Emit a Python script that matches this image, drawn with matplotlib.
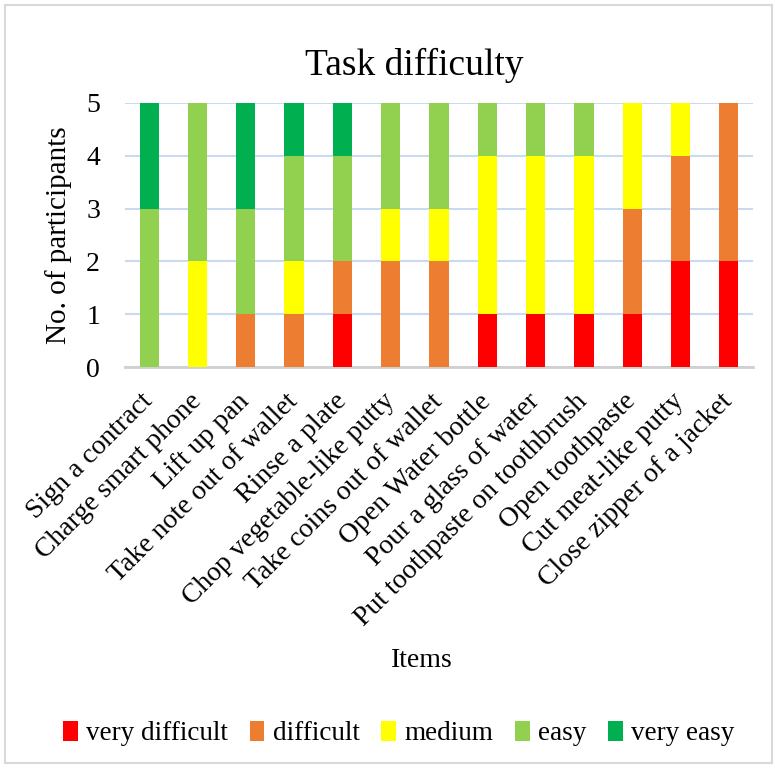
import matplotlib
matplotlib.use("Agg")
import matplotlib.pyplot as plt
from matplotlib.patches import Rectangle, Patch
import numpy as np

SERIF = ['Liberation Serif', 'DejaVu Serif']
plt.rcParams['font.family'] = SERIF

tasks = [
    "Sign a contract", "Charge smart phone", "Lift up pan",
    "Take note out of wallet", "Rinse a plate", "Chop vegetable-like putty",
    "Take coins out of wallet", "Open Water bottle", "Pour a glass of water",
    "Put toothpaste on toothbrush", "Open toothpaste", "Cut meat-like putty",
    "Close zipper of a jacket",
]
very_difficult = [0, 0, 0, 0, 1, 0, 0, 1, 1, 1, 1, 2, 2]
difficult      = [0, 0, 1, 1, 1, 2, 2, 0, 0, 0, 2, 2, 3]
medium         = [0, 2, 0, 1, 0, 1, 1, 3, 3, 3, 2, 1, 0]
easy           = [3, 3, 2, 2, 2, 2, 2, 1, 1, 1, 0, 0, 0]
very_easy      = [2, 0, 2, 1, 1, 0, 0, 0, 0, 0, 0, 0, 0]

series = [
    ("very difficult", very_difficult, "#FF0000"),
    ("difficult", difficult, "#ED7D31"),
    ("medium", medium, "#FFFF00"),
    ("easy", easy, "#92D050"),
    ("very easy", very_easy, "#00B050"),
]

fig = plt.figure(figsize=(7.77, 7.68), dpi=100)
fig.patches.append(Rectangle((0.007, 0.007), 0.986, 0.986, transform=fig.transFigure,
                             fill=False, edgecolor="#D9D9D9", linewidth=1.5))
ax = fig.add_axes([0.161, 0.522, 0.808, 0.344])

x = np.arange(len(tasks))
bottom = np.zeros(len(tasks))
handles = []
for name, vals, color in series:
    vals = np.array(vals, dtype=float)
    ax.bar(x, vals, bottom=bottom, width=0.4, color=color, zorder=3, label=name)
    bottom += vals
    handles.append(Patch(facecolor=color, label=name))

ax.set_xlim(-0.5, len(tasks) - 0.5)
ax.set_ylim(0, 5)
ax.set_yticks(range(6))
ax.yaxis.grid(True, color="#C9DAEE", linewidth=1.5, zorder=0)
ax.set_axisbelow(True)
for s in ["top", "right", "left"]:
    ax.spines[s].set_visible(False)
ax.spines["bottom"].set_color("#D0D0D0")
ax.spines["bottom"].set_linewidth(2)
ax.tick_params(axis="both", length=0, labelsize=20)
ax.tick_params(axis="y", pad=18)
ax.set_xticks(x)
ax.set_xticklabels(tasks, rotation=45, ha="right", va="center", rotation_mode="anchor")
ax.tick_params(axis="x", pad=22)

ax.set_ylabel("No. of participants", fontsize=21, labelpad=10)
fig.text(0.543, 0.14, "Items", ha="center", va="center", fontsize=20)
fig.text(0.533, 0.915, "Task difficulty", ha="center", va="center", fontsize=27)

fig.legend(handles=handles, loc="center", bbox_to_anchor=(0.513, 0.045), ncol=5,
           frameon=False, prop={'family': SERIF, 'size': 19.5},
           handlelength=0.55, handleheight=0.8,
           handletextpad=0.3, columnspacing=0.8)

fig.savefig("out.png", dpi=100)
